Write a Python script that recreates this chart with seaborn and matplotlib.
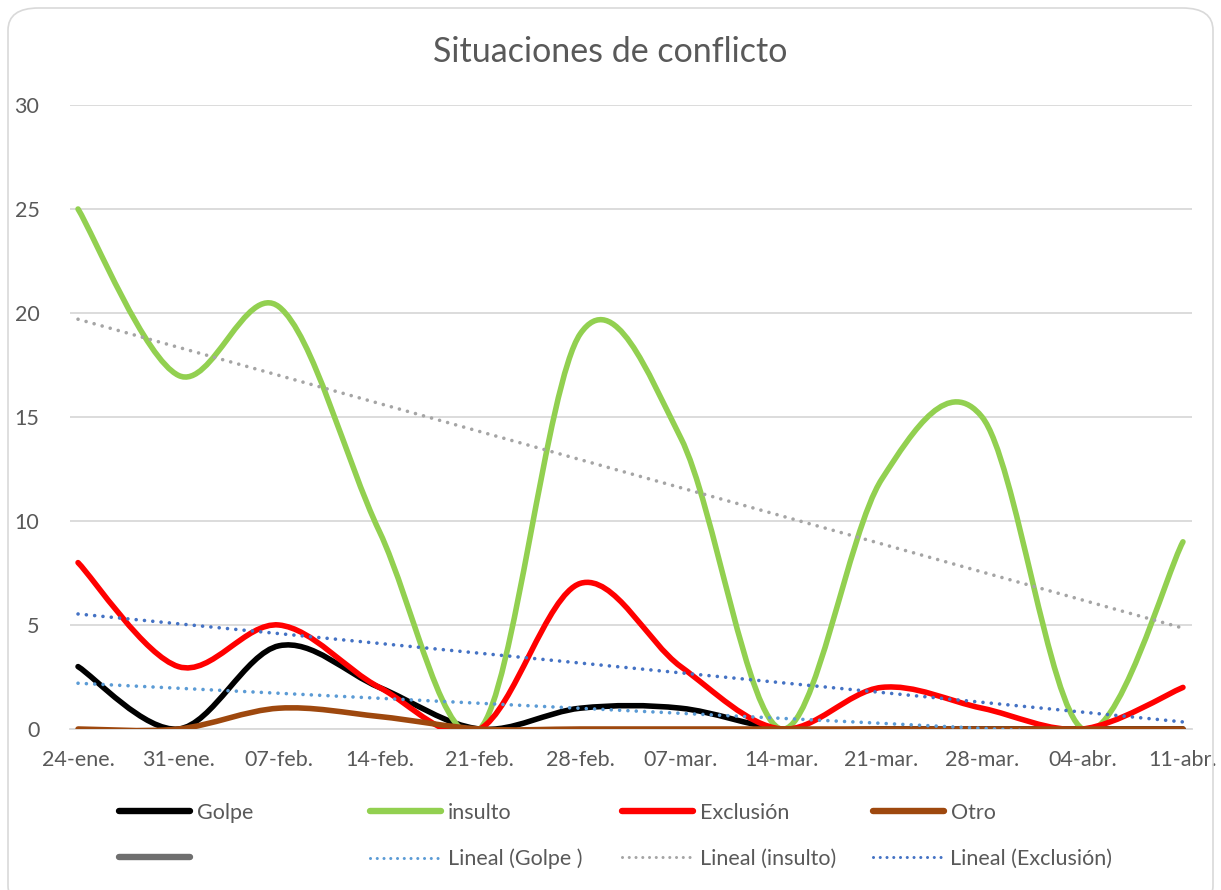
"""Situaciones de conflicto: weekly counts with linear trends."""

import numpy as np
import matplotlib
matplotlib.use("Agg")
import matplotlib.pyplot as plt
from matplotlib.path import Path
from matplotlib.patches import PathPatch, FancyBboxPatch
from matplotlib.lines import Line2D
import seaborn as sns


# data
fechas = ['24-ene.', '31-ene.', '07-feb.', '14-feb.', '21-feb.', '28-feb.',
          '07-mar.', '14-mar.', '21-mar.', '28-mar.', '04-abr.', '11-abr.']
golpe = [3, 0, 4, 2, 0, 1, 1, 0, 0, 0, 0, 0]
insulto = [25, 17, 20.3, 9.5, 0, 19, 14, 0, 12, 15, 0, 9]
exclusion = [8, 3, 5, 2, 0, 7, 3, 0, 2, 1, 0, 2]
otro = [0, 0, 1, 0.6, 0, 0, 0, 0, 0, 0, 0, 0]

# linear trend lines (value at first and last date, as drawn by Excel)
trend_golpe = [2.2, -0.45]
trend_insulto = [19.7, 4.85]
trend_exclusion = [5.53, 0.34]

C_GOLPE = '#000000'
C_INSULTO = '#92D050'
C_EXCL = '#FF0000'
C_OTRO = '#9E480E'
C_BLANK = '#6F6F6F'
C_TGOLPE = '#5B9BD5'
C_TINSULTO = '#A5A5A5'
C_TEXCL = '#4472C4'
TXT = '#595959'

LW = 4.0
DOT = (0, (0.01, 2.3))
FS = 15.5


def smooth_path(xs, ys):
    """bezier path through the points, like Excel's smoothed line"""
    pts = np.column_stack([xs, ys]).astype(float)
    n = len(pts)
    verts = [pts[0]]
    codes = [Path.MOVETO]
    for i in range(n - 1):
        p0 = pts[max(i - 1, 0)]
        p1 = pts[i]
        p2 = pts[i + 1]
        p3 = pts[min(i + 2, n - 1)]
        verts += [p1 + (p2 - p0) / 6.0, p2 - (p3 - p1) / 6.0, p2]
        codes += [Path.CURVE4] * 3
    return Path(verts, codes)


sns.set_theme(style='white')
plt.rcParams['font.family'] = ['Lato', 'DejaVu Sans']

fig = plt.figure(figsize=(12.21, 8.90), dpi=100)
ax = fig.add_axes([70 / 1221, 1 - 729 / 890, 1122 / 1221, 624 / 890])

x = np.arange(len(fechas))

# series, in Excel drawing order
for serie, color in [(golpe, C_GOLPE), (insulto, C_INSULTO),
                     (exclusion, C_EXCL), (otro, C_OTRO)]:
    patch = PathPatch(smooth_path(x, serie), fill=False, edgecolor=color,
                      lw=LW, capstyle='round', joinstyle='round', zorder=3)
    ax.add_patch(patch)

# trend lines
xt = [x[0], x[-1]]
for trend, color in [(trend_golpe, C_TGOLPE), (trend_insulto, C_TINSULTO),
                     (trend_exclusion, C_TEXCL)]:
    sns.lineplot(x=xt, y=trend, ax=ax, color=color, lw=2.6,
                 linestyle=DOT, zorder=4)
for l in ax.lines:
    l.set_dash_capstyle('round')

ax.set_xlim(-0.08, 11.09)
ax.set_ylim(0, 30)
ax.set_yticks([0, 5, 10, 15, 20, 25, 30])
ax.set_xticks(x)
ax.set_xticklabels(fechas)
ax.tick_params(axis='both', length=0, labelsize=FS, labelcolor=TXT)
ax.tick_params(axis='y', pad=22)
ax.tick_params(axis='x', pad=15)
ax.grid(axis='y', color='#D9D9D9', lw=1.3)
ax.set_axisbelow(True)
for s in ['left', 'right', 'top']:
    ax.spines[s].set_visible(False)
ax.spines['bottom'].set_color('#D9D9D9')
ax.spines['bottom'].set_linewidth(1.3)
ax.set_xlabel('')
ax.set_ylabel('')

fig.text(0.5, 1 - 52 / 890, 'Situaciones de conflicto', ha='center',
         va='center', fontsize=24.5, color=TXT)

# legend: 4 columns x 2 rows
def h(color, dotted=False):
    if dotted:
        return Line2D([], [], color=color, lw=2.2, linestyle=(0, (0.01, 2.2)),
                      dash_capstyle='round')
    return Line2D([], [], color=color, lw=4.6, solid_capstyle='round')

columns = [
    ([h(C_GOLPE), h(C_BLANK)], ['Golpe', '']),
    ([h(C_INSULTO), h(C_TGOLPE, True)], ['insulto', 'Lineal (Golpe )']),
    ([h(C_EXCL), h(C_TINSULTO, True)], ['Exclusión', 'Lineal (insulto)']),
    ([h(C_OTRO), h(C_TEXCL, True)], ['Otro', 'Lineal (Exclusión)']),
]
col_x = [119, 370, 622, 873]
for (handles, labels), cx in zip(columns, col_x):
    leg = fig.legend(handles, labels, loc='upper left',
                     bbox_to_anchor=(cx / 1221, 1 - 803 / 890),
                     frameon=False, fontsize=FS, handlelength=3.3,
                     handletextpad=0.3, borderpad=0, borderaxespad=0,
                     labelspacing=1.2)
    for t in leg.get_texts():
        t.set_color(TXT)

# chart border
fig.patches.append(FancyBboxPatch((8 / 1221, -0.02), 1 - 16 / 1221,
                                  1.02 - 8 / 890,
                                  boxstyle='round,pad=0,rounding_size=0.025',
                                  transform=fig.transFigure, fill=False,
                                  edgecolor='#D9D9D9', lw=1.2))

fig.savefig('out.png', dpi=100, facecolor='white')
